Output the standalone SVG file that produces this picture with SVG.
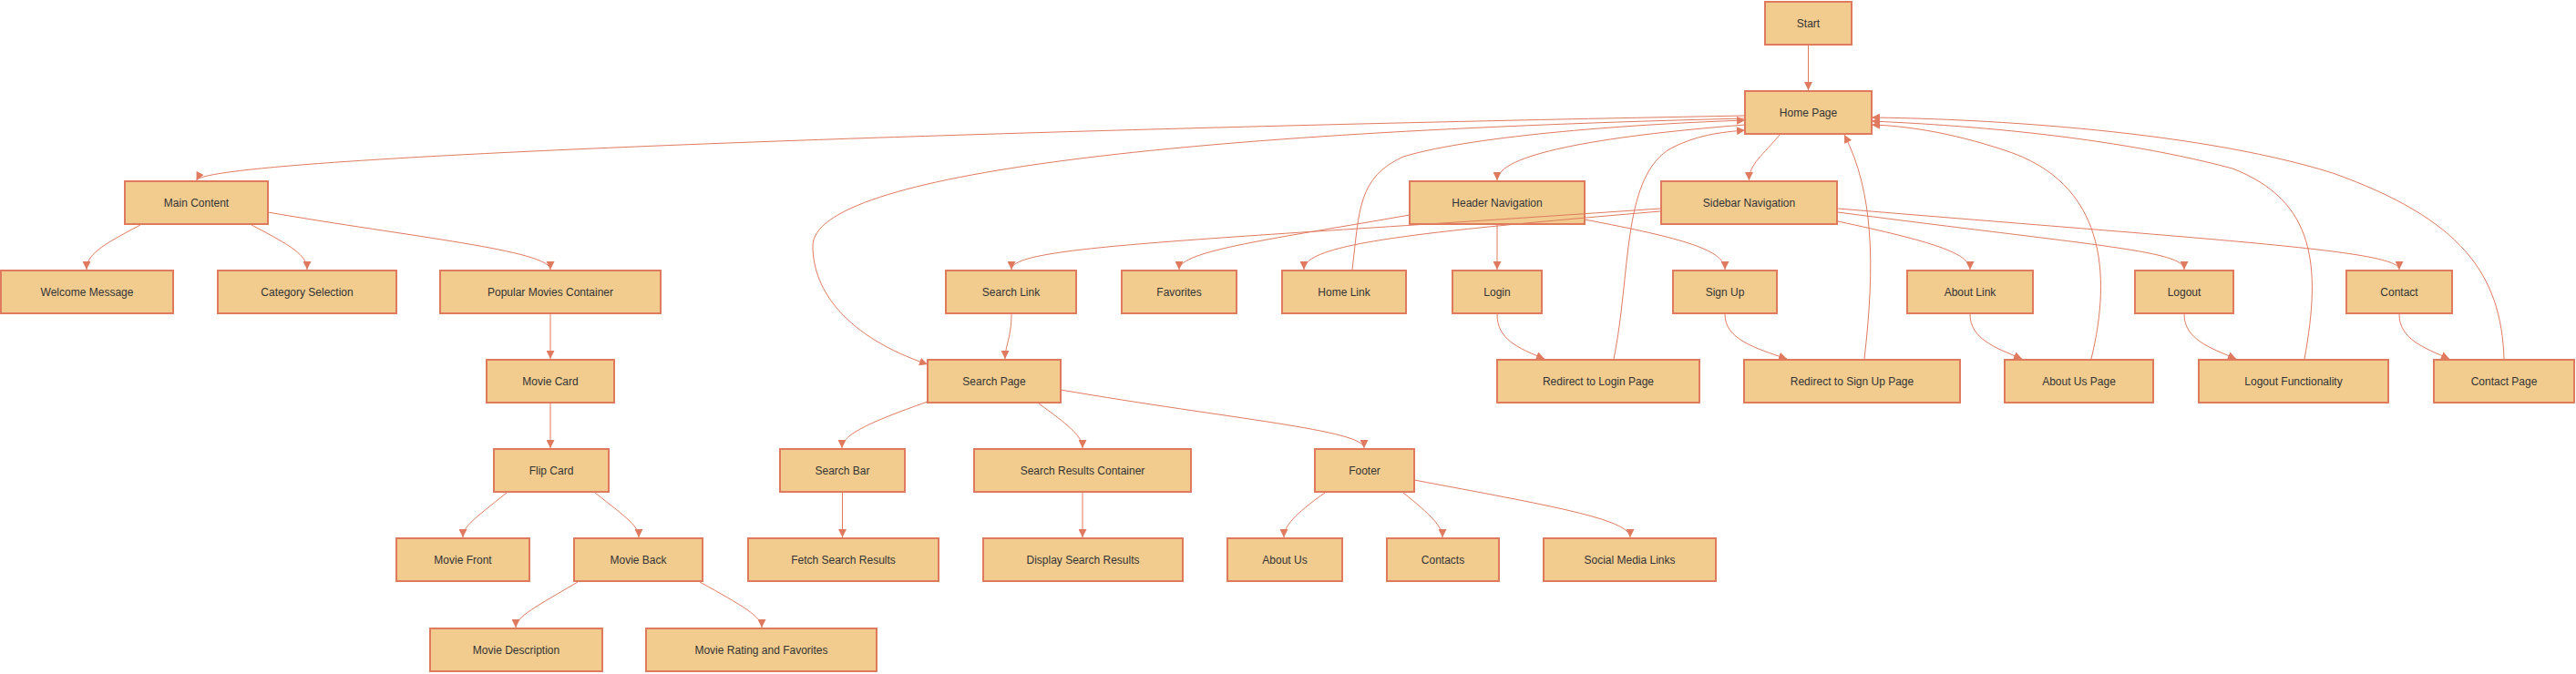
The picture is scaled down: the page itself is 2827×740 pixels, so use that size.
<svg xmlns="http://www.w3.org/2000/svg" width="2827" height="740" viewBox="0 0 2827 740">
<style>
.n rect{fill:#F2CC8F;stroke:#E07A5F;stroke-width:2}
.n text{font-family:"Liberation Sans",Arial,sans-serif;font-size:12px;fill:#333;text-anchor:middle;dominant-baseline:central}
.e path{fill:none;stroke:#E07A5F;stroke-width:1;marker-end:url(#arr)}
</style>
<defs>
<marker id="arr" viewBox="0 0 10 10" refX="10" refY="5" markerUnits="userSpaceOnUse" markerWidth="9" markerHeight="9" orient="auto">
<path d="M0,0 L10,5 L0,10 z" fill="#E07A5F"/>
</marker>
</defs>
<rect width="2827" height="740" fill="#fff"/>
<g id="nodes">
<g id="start" class="n"><rect x="1937" y="2" width="95" height="47"/><text x="1984.5" y="25.5">Start</text></g>
<g id="home" class="n"><rect x="1915" y="100" width="139" height="47"/><text x="1984.5" y="123.5">Home Page</text></g>
<g id="main" class="n"><rect x="137" y="199" width="157" height="47"/><text x="215.5" y="222.5">Main Content</text></g>
<g id="header" class="n"><rect x="1547" y="199" width="192" height="47"/><text x="1643" y="222.5">Header Navigation</text></g>
<g id="sidebar" class="n"><rect x="1823" y="199" width="193" height="47"/><text x="1919.5" y="222.5">Sidebar Navigation</text></g>
<g id="welcome" class="n"><rect x="1" y="297" width="189" height="47"/><text x="95.5" y="320.5">Welcome Message</text></g>
<g id="category" class="n"><rect x="239" y="297" width="196" height="47"/><text x="337" y="320.5">Category Selection</text></g>
<g id="popular" class="n"><rect x="483" y="297" width="242" height="47"/><text x="604" y="320.5">Popular Movies Container</text></g>
<g id="searchlink" class="n"><rect x="1038" y="297" width="143" height="47"/><text x="1109.5" y="320.5">Search Link</text></g>
<g id="favorites" class="n"><rect x="1231" y="297" width="126" height="47"/><text x="1294" y="320.5">Favorites</text></g>
<g id="homelink" class="n"><rect x="1407" y="297" width="136" height="47"/><text x="1475" y="320.5">Home Link</text></g>
<g id="login" class="n"><rect x="1594" y="297" width="98" height="47"/><text x="1643" y="320.5">Login</text></g>
<g id="signup" class="n"><rect x="1836" y="297" width="114" height="47"/><text x="1893" y="320.5">Sign Up</text></g>
<g id="aboutlink" class="n"><rect x="2093" y="297" width="138" height="47"/><text x="2162" y="320.5">About Link</text></g>
<g id="logout" class="n"><rect x="2343" y="297" width="108" height="47"/><text x="2397" y="320.5">Logout</text></g>
<g id="contact" class="n"><rect x="2575" y="297" width="116" height="47"/><text x="2633" y="320.5">Contact</text></g>
<g id="moviecard" class="n"><rect x="534" y="395" width="140" height="47"/><text x="604" y="418.5">Movie Card</text></g>
<g id="searchpage" class="n"><rect x="1018" y="395" width="146" height="47"/><text x="1091" y="418.5">Search Page</text></g>
<g id="redirlogin" class="n"><rect x="1643" y="395" width="222" height="47"/><text x="1754" y="418.5">Redirect to Login Page</text></g>
<g id="redirsignup" class="n"><rect x="1914" y="395" width="237" height="47"/><text x="2032.5" y="418.5">Redirect to Sign Up Page</text></g>
<g id="aboutuspage" class="n"><rect x="2200" y="395" width="163" height="47"/><text x="2281.5" y="418.5">About Us Page</text></g>
<g id="logoutfn" class="n"><rect x="2413" y="395" width="208" height="47"/><text x="2517" y="418.5">Logout Functionality</text></g>
<g id="contactpage" class="n"><rect x="2671" y="395" width="154" height="47"/><text x="2748" y="418.5">Contact Page</text></g>
<g id="flipcard" class="n"><rect x="542" y="493" width="126" height="47"/><text x="605" y="516.5">Flip Card</text></g>
<g id="searchbar" class="n"><rect x="856" y="493" width="137" height="47"/><text x="924.5" y="516.5">Search Bar</text></g>
<g id="src" class="n"><rect x="1069" y="493" width="238" height="47"/><text x="1188" y="516.5">Search Results Container</text></g>
<g id="footer" class="n"><rect x="1443" y="493" width="109" height="47"/><text x="1497.5" y="516.5">Footer</text></g>
<g id="moviefront" class="n"><rect x="435" y="591" width="146" height="47"/><text x="508" y="614.5">Movie Front</text></g>
<g id="movieback" class="n"><rect x="630" y="591" width="141" height="47"/><text x="700.5" y="614.5">Movie Back</text></g>
<g id="fetch" class="n"><rect x="821" y="591" width="209" height="47"/><text x="925.5" y="614.5">Fetch Search Results</text></g>
<g id="display" class="n"><rect x="1079" y="591" width="219" height="47"/><text x="1188.5" y="614.5">Display Search Results</text></g>
<g id="aboutus" class="n"><rect x="1347" y="591" width="126" height="47"/><text x="1410" y="614.5">About Us</text></g>
<g id="contacts" class="n"><rect x="1522" y="591" width="123" height="47"/><text x="1583.5" y="614.5">Contacts</text></g>
<g id="social" class="n"><rect x="1694" y="591" width="189" height="47"/><text x="1788.5" y="614.5">Social Media Links</text></g>
<g id="moviedesc" class="n"><rect x="472" y="690" width="189" height="47"/><text x="566.5" y="713.5">Movie Description</text></g>
<g id="movierating" class="n"><rect x="709" y="690" width="253" height="47"/><text x="835.5" y="713.5">Movie Rating and Favorites</text></g>
</g>
<g id="connectors" class="e">
<path d="M1984.5,50 L1984.5,99"/>
<path d="M1915,127 C1200,140 230,170 215.5,198"/>
<path d="M1915,130 C1300,145 892,190 892,270 C892,320 930,370 1018,400"/>
<path d="M1915,137 C1750,150 1643,170 1643,198"/>
<path d="M1953,148 C1935,170 1919.5,180 1919.5,198"/>
<path d="M154,247 C110,270 95,280 95,296"/>
<path d="M276,247 C320,270 337,280 337,296"/>
<path d="M294,233 C450,260 604,275 604,296"/>
<path d="M604,345 L604,394"/>
<path d="M604,443 L604,492"/>
<path d="M556,541 C520,570 508,578 508,590"/>
<path d="M653,541 C690,570 701,578 701,590"/>
<path d="M634,639 C590,665 566,677 566,689"/>
<path d="M768,639 C815,665 836,677 836,689"/>
<path d="M1110,345 C1110,370 1103,380 1103,394"/>
<path d="M1018,441 C950,465 924,478 924,492"/>
<path d="M1140,443 C1170,465 1188,478 1188,492"/>
<path d="M1164,428 C1350,460 1497,472 1497,492"/>
<path d="M924.5,541 L924.5,590"/>
<path d="M1188,541 L1188,590"/>
<path d="M1454,541 C1420,565 1409,578 1409,590"/>
<path d="M1540,541 C1570,565 1583,578 1583,590"/>
<path d="M1552,527 C1700,555 1789,570 1789,590"/>
<path d="M1547,236 C1400,262 1294,275 1294,296"/>
<path d="M1643,247 L1643,296"/>
<path d="M1739,241 C1850,262 1893,275 1893,296"/>
<path d="M1822,229 C1300,265 1110,270 1110,296"/>
<path d="M1822,232 C1550,255 1431,268 1431,296"/>
<path d="M2017,243 C2120,265 2162,278 2162,296"/>
<path d="M2017,233 C2300,270 2397,275 2397,296"/>
<path d="M2017,229 C2450,265 2633,275 2633,296"/>
<path d="M1643,345 C1643,372 1665,382 1695,394"/>
<path d="M1893,345 C1893,372 1925,382 1961,394"/>
<path d="M2162,345 C2162,372 2190,382 2219,394"/>
<path d="M2397,345 C2397,372 2425,382 2454,394"/>
<path d="M2633,345 C2633,372 2660,382 2688,394"/>
<path d="M1484,296 C1492,230 1490,195 1540,172 C1620,148 1800,136 1915,132"/>
<path d="M1771,394 C1790,300 1780,200 1830,165 C1860,148 1890,145 1915,143"/>
<path d="M2046,394 C2058,290 2056,210 2024,148"/>
<path d="M2295,394 C2318,300 2310,200 2200,165 C2140,145 2090,138 2054,137"/>
<path d="M2529,394 C2548,290 2540,220 2450,185 C2300,145 2120,136 2054,133"/>
<path d="M2748,394 C2745,300 2700,240 2560,190 C2400,140 2150,130 2054,129"/>
</g>
</svg>
